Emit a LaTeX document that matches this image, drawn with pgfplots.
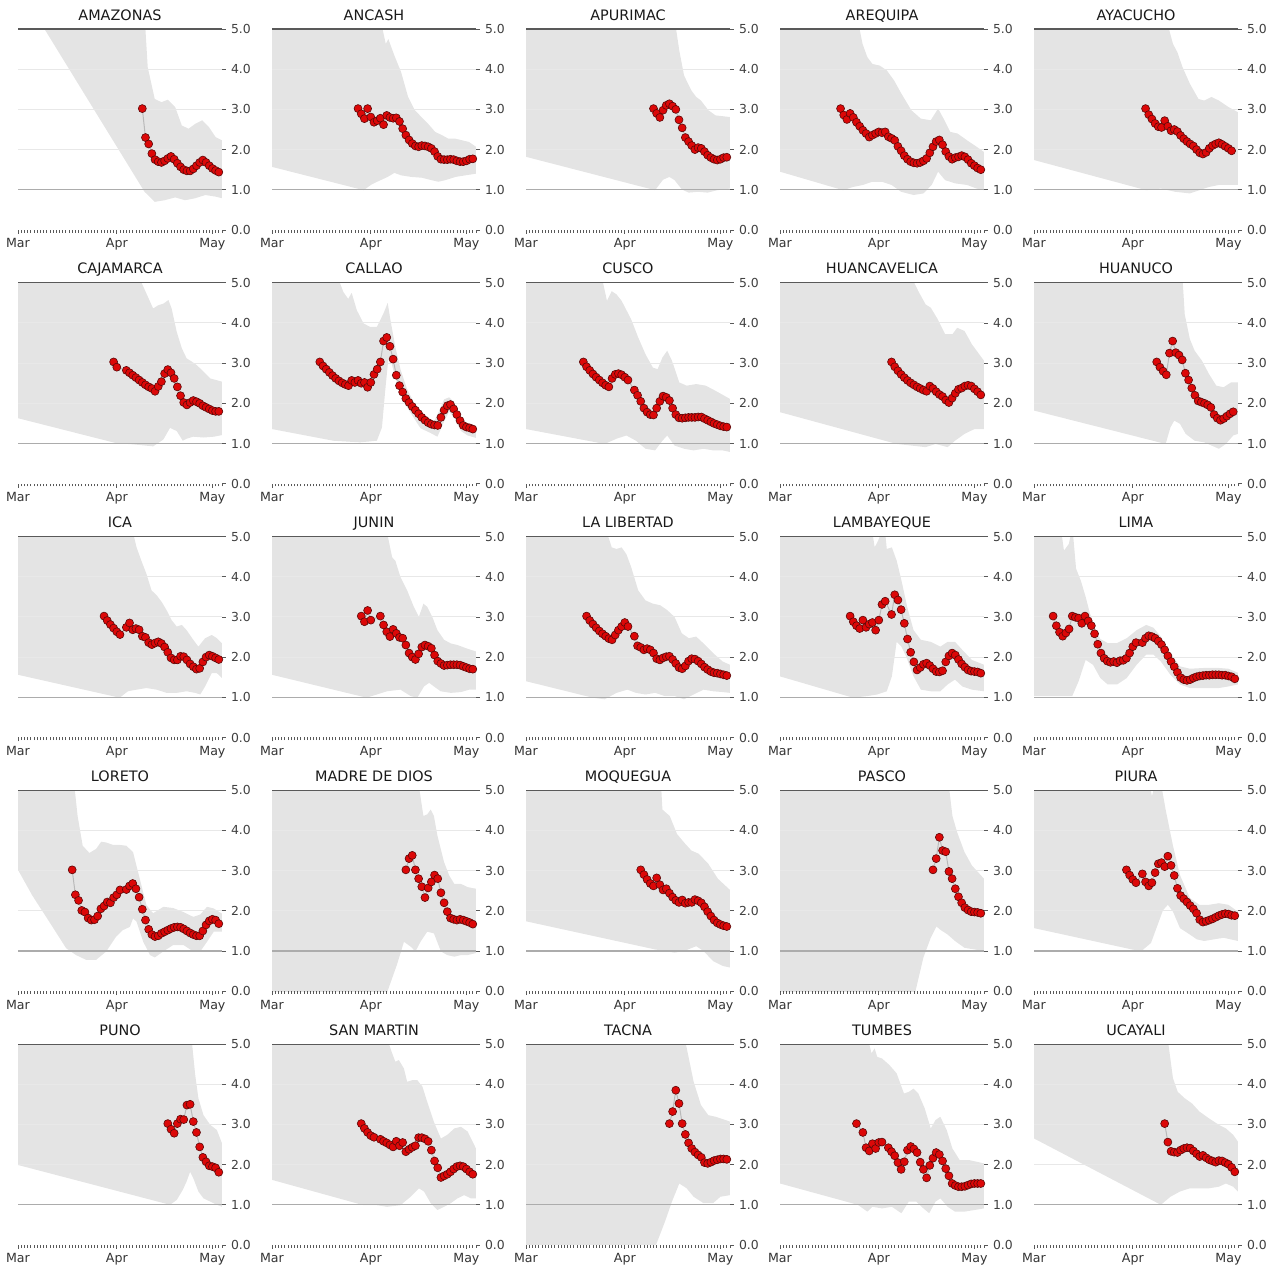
\documentclass[border=0pt]{standalone}
\usepackage{fontspec}
\setmainfont{DejaVu Sans}
\usepackage{pgfplots}
\pgfplotsset{compat=1.18}
\usepgfplotslibrary{fillbetween}

\definecolor{markred}{RGB}{220,8,8}
\definecolor{markedge}{RGB}{90,8,8}

\pgfplotsset{
  every axis title/.style={at={(0.5,1)}, anchor=base, yshift=4.4pt,
    font=\fontsize{7.2}{8}\selectfont, text=black!90},
  panel/.style={
    scale only axis, width=102pt, height=100.5pt,
    anchor=north west,
    xmin=0, xmax=64, ymin=0, ymax=5,
    axis x line*=bottom, axis y line*=right,
    axis line style={draw=none},
    ytick={0,1,2,3,4,5},
    xtick={0,31,61}, xticklabels={Mar,Apr,May},
    minor xtick={0,1,...,64},
    tick align=outside,
    major tick length=2pt, minor tick length=1.3pt,
    tick style={black!65, line width=0.35pt},
    /pgf/number format/assume math mode=true,
    yticklabel style={/pgf/number format/.cd, fixed, fixed zerofill, precision=1,
      /tikz/.cd, font=\fontsize{6.2}{7}\selectfont, text=black!75, xshift=-1pt},
    xticklabel style={font=\fontsize{6.3}{7}\selectfont, text=black!80, yshift=1.2pt},
  },
  gline/.style={gray!18, line width=0.5pt, forget plot},
  oneline/.style={gray!65, line width=0.55pt, forget plot},
  fiveline/.style={black!65, line width=0.6pt, forget plot},
  band/.style={fill=black, fill opacity=0.105, draw=none},
  series/.style={gray!55, line width=0.5pt, mark=*, mark size=2pt,
    mark options={solid, fill=markred, draw=markedge, line width=0.3pt}},
}

% #1 column, #2 row, #3 title, #4 upper bound, #5 lower bound, #6 estimate
\newcommand{\panel}[6]{%
\begin{axis}[panel, at={({#1*127pt+9pt},{-#2*126.875pt-14.5pt})}, title={#3}]
\addplot[gline] coordinates {(0,2) (64,2)};
\addplot[gline] coordinates {(0,3) (64,3)};
\addplot[gline] coordinates {(0,4) (64,4)};
\addplot[draw=none, name path=U, forget plot] coordinates {#4};
\addplot[draw=none, name path=L, forget plot] coordinates {#5};
\addplot[band] fill between[of=U and L];
\addplot[oneline] coordinates {(0,1) (64,1)};
\addplot[fiveline] coordinates {(0,5) (64,5)};
\addplot[series] coordinates {#6};
\end{axis}}

\begin{document}
\begin{tikzpicture}

% ---------- row 1
\panel{0}{0}{AMAZONAS}
{(0,5.1) (39.9,5.1) (40.7,4.05) (42.9,3.26) (45,3.18) (47,3.24) (49.3,3.06) (51.4,2.6) (53.5,2.52) (55.6,2.64) (57.8,2.73) (59.9,2.56) (62,2.31) (64,2.23)}
{(0,6.07) (8.3,5.0) (39.7,0.95) (42.9,0.70) (46,0.74) (49.3,0.81) (52.4,0.74) (55.6,0.79) (58.8,0.87) (62,0.83) (64,0.79)}
{(39,3.02) (40,2.30) (41,2.14) (42,1.90) (43,1.75) (44,1.70) (45,1.68) (46,1.72) (47,1.78) (48,1.83) (49,1.76) (50,1.66) (51,1.57) (52,1.50) (53,1.47) (54,1.47) (55,1.52) (56,1.60) (57,1.68) (58,1.74) (59,1.68) (60,1.60) (61,1.53) (62,1.48) (63,1.44)}

\panel{1}{0}{ANCASH}
{(0,5.1) (34.4,5.1) (35.7,4.63) (36.5,4.75) (38.4,4.34) (40.5,3.93) (42.7,3.31) (44.8,2.98) (46.9,2.81) (49,2.64) (51.2,2.44) (53.3,2.36) (55.4,2.27) (57.6,2.27) (59.7,2.23) (61.8,2.19) (64,2.07)}
{(0,1.57) (28.8,0.99) (31,1.12) (33,1.20) (36.3,1.32) (38.4,1.42) (40.5,1.36) (43.7,1.32) (47,1.30) (50,1.24) (52.2,1.20) (54.4,1.24) (57.6,1.32) (60.7,1.36) (64,1.40)}
{(27,3.02) (28,2.89) (29,2.77) (30,3.02) (31,2.81) (32,2.68) (33,2.72) (34,2.78) (35,2.62) (36,2.85) (37,2.80) (38,2.78) (39,2.79) (40,2.70) (41,2.52) (42,2.36) (43,2.24) (44,2.15) (45,2.09) (46,2.07) (47,2.10) (48,2.09) (49,2.07) (50,2.03) (51,1.95) (52,1.83) (53,1.76) (54,1.75) (55,1.75) (56,1.76) (57,1.75) (58,1.72) (59,1.70) (60,1.70) (61,1.72) (62,1.76) (63,1.77)}

\panel{2}{0}{APURIMAC}
{(0,5.1) (46.9,5.1) (48.1,4.46) (49.6,3.84) (51.9,3.47) (53.4,3.31) (54.9,3.22) (57.2,2.98) (59.5,2.85) (64,2.81)}
{(0,1.82) (40.5,0.99) (43,1.25) (45,1.32) (46.6,1.24) (48.9,1.01) (51,0.93) (54,0.95) (57,0.93) (60,0.99) (64,1.03)}
{(40,3.02) (41,2.90) (42,2.80) (43,2.98) (44,3.10) (45,3.14) (46,3.08) (47,3.00) (48,2.74) (49,2.54) (50,2.30) (51,2.20) (52,2.10) (53,2.00) (54,2.05) (55,2.03) (56,1.95) (57,1.86) (58,1.80) (59,1.76) (60,1.74) (61,1.76) (62,1.80) (63,1.81)}

\panel{3}{0}{AREQUIPA}
{(0,5.1) (24.7,5.1) (25.9,4.63) (27.4,4.30) (29,4.13) (31.3,4.09) (33.5,3.97) (35.8,3.72) (38.1,3.39) (41.2,2.98) (44.2,2.77) (47.3,2.73) (49.6,3.02) (51.6,2.73) (53.4,2.44) (55.7,2.40) (58.7,2.23) (61.7,2.07) (64,1.94)}
{(0,1.45) (19.8,0.99) (22.9,1.07) (26,1.12) (29,1.20) (32,1.20) (35,1.12) (38,0.95) (41.9,0.87) (45,0.91) (47.6,1.12) (49.6,1.45) (51.8,1.24) (54.9,1.16) (58.7,1.12) (61.7,1.03) (64,0.99)}
{(19,3.02) (20,2.86) (21,2.75) (22,2.90) (23,2.80) (24,2.68) (25,2.58) (26,2.48) (27,2.40) (28,2.31) (29,2.36) (30,2.40) (31,2.44) (32,2.42) (33,2.44) (34,2.32) (35,2.28) (36,2.23) (37,2.08) (38,1.97) (39,1.85) (40,1.76) (41,1.70) (42,1.67) (43,1.66) (44,1.68) (45,1.72) (46,1.78) (47,1.92) (48,2.07) (49,2.20) (50,2.24) (51,2.12) (52,1.95) (53,1.83) (54,1.76) (55,1.80) (56,1.82) (57,1.85) (58,1.82) (59,1.75) (60,1.66) (61,1.60) (62,1.54) (63,1.50)}

\panel{4}{0}{AYACUCHO}
{(0,5.1) (42,5.1) (43.6,4.63) (45,4.42) (46.6,4.05) (48.9,3.64) (51.6,3.26) (53.4,3.22) (55.7,3.31) (58,3.22) (61,3.06) (64,2.93)}
{(0,1.74) (35.2,0.99) (39.8,1.03) (44.3,0.95) (48.9,0.91) (51.9,0.99) (54.9,1.07) (58,1.12) (61,1.12) (64,1.12)}
{(35,3.02) (36,2.87) (37,2.76) (38,2.65) (39,2.57) (40,2.55) (41,2.72) (42,2.58) (43,2.47) (44,2.50) (45,2.45) (46,2.35) (47,2.27) (48,2.20) (49,2.14) (50,2.09) (51,2.00) (52,1.92) (53,1.89) (54,1.93) (55,2.03) (56,2.10) (57,2.14) (58,2.17) (59,2.13) (60,2.08) (61,2.03) (62,1.97)}

% ---------- row 2
\panel{0}{1}{CAJAMARCA}
{(0,5.1) (38.2,5.1) (40.3,4.73) (42.4,4.36) (44,4.44) (45.6,4.48) (47.2,4.57) (48.2,4.36) (49.8,3.78) (51.4,3.37) (52.9,3.12) (54.5,3.04) (56.1,2.95) (58.2,2.79) (60.3,2.62) (64,2.54)}
{(0,1.63) (30.8,1.01) (36.1,0.98) (42.4,0.93) (45.6,1.10) (47.7,1.39) (49.8,1.31) (51.7,1.07) (52.9,1.12) (55,1.17) (58.2,1.15) (61.4,1.17) (64,1.21)}
{(30,3.03) (31,2.90) (34,2.82) (35,2.76) (36,2.70) (37,2.64) (38,2.58) (39,2.52) (40,2.46) (41,2.41) (42,2.37) (43,2.30) (44,2.42) (45,2.54) (46,2.74) (47,2.84) (48,2.76) (49,2.62) (50,2.41) (51,2.19) (52,2.02) (53,1.96) (54,2.02) (55,2.07) (56,2.04) (57,2.00) (58,1.94) (59,1.90) (60,1.86) (61,1.82) (62,1.80) (63,1.80)}

\panel{1}{1}{CALLAO}
{(0,5.1) (20.8,5.1) (22.4,4.77) (23.9,4.60) (25,4.75) (26.6,4.32) (28.7,3.99) (30.8,3.90) (32.9,3.90) (35,4.24) (36.3,4.50) (37.1,4.10) (38.7,3.40) (40.3,2.85) (42.4,2.35) (45,1.95) (47.7,1.68) (50.8,1.55) (52.4,1.80) (54,2.10) (55.6,2.15) (57.2,2.02) (58.8,1.72) (60.9,1.50) (64,1.42)}
{(0,1.36) (19.2,1.07) (27.6,1.03) (32.9,1.07) (34.5,1.40) (35.5,2.30) (36.5,3.10) (37.5,3.00) (38.5,2.70) (40,2.30) (42,1.95) (44,1.70) (46.6,1.38) (49.8,1.26) (51.9,1.17) (54,1.55) (55.6,1.80) (57.2,1.63) (59.3,1.31) (61.4,1.20) (64,1.14)}
{(15,3.03) (16,2.93) (17,2.85) (18,2.77) (19,2.69) (20,2.62) (21,2.56) (22,2.51) (23,2.47) (24,2.44) (25,2.57) (26,2.52) (27,2.57) (28,2.50) (29,2.52) (30,2.40) (31,2.52) (32,2.72) (33,2.85) (34,3.03) (35,3.55) (36,3.64) (37,3.42) (38,3.10) (39,2.70) (40,2.44) (41,2.28) (42,2.12) (43,2.02) (44,1.92) (45,1.83) (46,1.74) (47,1.65) (48,1.58) (49,1.52) (50,1.48) (51,1.46) (52,1.45) (53,1.65) (54,1.83) (55,1.94) (56,1.97) (57,1.86) (58,1.72) (59,1.57) (60,1.45) (61,1.41) (62,1.39) (63,1.36)}

\panel{2}{1}{CUSCO}
{(0,5.1) (23.9,5.1) (25.4,4.55) (26.9,4.79) (28.4,4.71) (30,4.55) (33,4.09) (35.2,3.64) (37.5,3.22) (39.8,2.89) (41.3,2.85) (42.8,3.14) (44.3,3.31) (45.8,3.06) (48.1,2.52) (50.4,2.44) (53.4,2.48) (56.4,2.44) (59.5,2.31) (64,2.11)}
{(0,1.36) (24.7,0.99) (28.4,1.12) (31.5,1.20) (34.5,1.07) (37.5,0.87) (40.5,0.83) (42.8,1.07) (44.3,1.20) (46.6,0.95) (49.6,0.87) (52.6,0.83) (55.7,0.87) (58.7,0.83) (61.7,0.83) (64,0.79)}
{(18,3.03) (19,2.91) (20,2.82) (21,2.73) (22,2.65) (23,2.58) (24,2.51) (25,2.45) (26,2.41) (27,2.62) (28,2.72) (29,2.74) (30,2.71) (31,2.65) (32,2.58) (34,2.33) (35,2.20) (36,2.05) (37,1.88) (38,1.78) (39,1.72) (40,1.71) (41,1.88) (42,2.05) (43,2.18) (44,2.15) (45,2.07) (46,1.88) (47,1.72) (48,1.64) (49,1.63) (50,1.64) (51,1.65) (52,1.65) (53,1.65) (54,1.66) (55,1.66) (56,1.62) (57,1.58) (58,1.54) (59,1.50) (60,1.47) (61,1.44) (62,1.42) (63,1.41)}

\panel{3}{1}{HUANCAVELICA}
{(0,5.1) (41.5,5.1) (43.4,4.79) (45.7,4.46) (47.3,4.38) (49.5,4.09) (51.8,3.72) (54.1,3.72) (55.6,3.88) (57.9,3.80) (60.2,3.47) (64,3.06)}
{(0,1.78) (36.6,0.99) (41.2,0.95) (45.7,0.91) (48.8,0.99) (52.6,0.91) (54.9,1.07) (57.9,1.24) (61,1.36) (64,1.36)}
{(35,3.03) (36,2.91) (37,2.81) (38,2.72) (39,2.64) (40,2.57) (41,2.51) (42,2.46) (43,2.41) (44,2.37) (45,2.33) (46,2.30) (47,2.43) (48,2.37) (49,2.29) (50,2.22) (51,2.17) (52,2.08) (53,2.02) (54,2.13) (55,2.25) (56,2.35) (57,2.38) (58,2.43) (59,2.45) (60,2.43) (61,2.36) (62,2.29) (63,2.21)}

\panel{4}{1}{HUANUCO}
{(0,5.1) (46.6,5.1) (47.3,4.21) (48.9,3.60) (50.4,3.31) (52.7,3.06) (54.9,2.73) (57.2,2.44) (59.5,2.40) (61.8,2.52) (64,2.52)}
{(0,1.82) (41.3,0.99) (42.8,1.40) (44,1.57) (45.8,1.49) (47.6,1.24) (50.4,1.07) (53.4,1.03) (55.7,0.95) (58,0.87) (60.2,0.99) (62.5,1.20) (64,1.24)}
{(38.5,3.03) (39.5,2.90) (40.5,2.80) (41.5,2.71) (42.5,3.25) (43.5,3.55) (44.5,3.26) (45.5,3.20) (46.5,3.08) (47.5,2.75) (48.5,2.58) (49.5,2.38) (50.5,2.20) (51.5,2.06) (52.5,2.03) (53.5,2.00) (54.5,1.96) (55.5,1.90) (56.5,1.72) (57.5,1.63) (58.5,1.58) (59.5,1.62) (60.5,1.68) (61.5,1.74) (62.5,1.79)}

% ---------- row 3
\panel{0}{2}{ICA}
{(0,5.1) (36.1,5.1) (37.2,4.73) (38.7,4.40) (40.3,4.07) (41.9,3.66) (43.5,3.54) (45.1,3.37) (46.6,3.17) (48.2,2.92) (49.8,2.76) (51.4,2.80) (52.9,2.67) (55,2.43) (56.6,2.26) (58.7,2.47) (60.8,2.55) (62.4,2.47) (64,2.34)}
{(0,1.56) (31.9,0.99) (34.5,1.15) (37.2,1.19) (40.3,1.23) (43.5,1.19) (46.6,1.11) (49.8,1.11) (52.9,1.15) (55.6,1.11) (57.2,1.07) (58.7,1.27) (60.8,1.60) (62.4,1.60) (64,1.48)}
{(27,3.02) (28,2.91) (29,2.81) (30,2.72) (31,2.63) (32,2.56) (34,2.74) (35,2.85) (36,2.68) (37,2.71) (38,2.68) (39,2.52) (40,2.49) (41,2.36) (42,2.31) (43,2.35) (44,2.38) (45,2.34) (46,2.25) (47,2.12) (48,1.98) (49,1.93) (50,1.93) (51,2.02) (52,2.01) (53,1.93) (54,1.83) (55,1.76) (56,1.70) (57,1.72) (58,1.88) (59,2.00) (60,2.05) (61,2.02) (62,1.98) (63,1.94)}

\panel{1}{2}{JUNIN}
{(0,5.1) (36.1,5.1) (37.7,4.48) (38.7,4.40) (40.3,3.99) (42.4,3.66) (44.5,3.25) (46.1,3.00) (47.5,3.33) (48.7,3.25) (50.3,3.00) (51.9,2.67) (54,2.43) (56.1,2.34) (58.2,2.30) (60.9,2.22) (64,2.14)}
{(0,1.56) (29.7,0.99) (32.9,1.07) (36.1,1.15) (40.3,1.19) (43.5,1.03) (45.6,0.99) (47.7,1.27) (49.3,1.36) (50.8,1.27) (52.9,1.15) (56.1,1.11) (59.3,1.13) (61.9,1.19) (64,1.19)}
{(28,3.02) (29,2.88) (30,3.16) (31,2.92) (34,3.02) (35,2.80) (36,2.63) (37,2.51) (38,2.69) (39,2.59) (40,2.49) (41,2.47) (42,2.30) (43,2.10) (44,2.00) (45,1.94) (46,2.08) (47,2.25) (48,2.30) (49,2.27) (50,2.22) (51,2.05) (52,1.90) (53,1.84) (54,1.79) (55,1.80) (56,1.81) (57,1.81) (58,1.81) (59,1.80) (60,1.77) (61,1.74) (62,1.71) (63,1.70)}

\panel{2}{2}{LA LIBERTAD}
{(0,5.1) (25.4,5.1) (26.9,4.73) (28.4,4.69) (30,4.73) (31.5,4.56) (33,4.24) (35.2,3.66) (37.5,3.41) (39.8,3.33) (42.1,3.29) (44.3,3.17) (46.6,3.00) (48.9,2.59) (51.1,2.47) (53.4,2.51) (55.7,2.34) (58.7,2.10) (61.7,1.89) (64,1.81)}
{(0,1.40) (20.9,0.99) (24.7,0.95) (28.4,1.11) (31.8,1.19) (34.5,1.11) (37.5,1.07) (40.5,1.11) (43.6,1.03) (46.6,1.03) (49.6,0.95) (52.6,1.07) (55.7,1.19) (58.7,1.15) (61.7,1.13) (64,1.11)}
{(19,3.02) (20,2.91) (21,2.82) (22,2.73) (23,2.65) (24,2.58) (25,2.52) (26,2.46) (27,2.43) (28,2.55) (29,2.67) (30,2.76) (31,2.86) (32,2.76) (34,2.52) (35,2.28) (36,2.24) (37,2.18) (38,2.21) (39,2.18) (40,2.10) (41,1.96) (42,1.93) (43,1.98) (44,2.01) (45,2.02) (46,1.94) (47,1.84) (48,1.74) (49,1.71) (50,1.78) (51,1.90) (52,1.96) (53,1.95) (54,1.90) (55,1.83) (56,1.75) (57,1.69) (58,1.64) (59,1.61) (60,1.60) (61,1.58) (62,1.56) (63,1.54)}

\panel{3}{2}{LAMBAYEQUE}
{(0,5.1) (29,5.1) (29.7,4.73) (30.8,4.90) (31.8,5.1) (33,5.1) (33.5,4.69) (35.1,4.73) (36.6,4.40) (38.1,3.91) (39.9,3.25) (41.9,2.67) (44.2,2.43) (47.3,2.38) (50.3,2.26) (52.6,2.38) (54.9,2.38) (57.2,2.18) (60.2,1.93) (64,1.81)}
{(0,1.52) (22.9,0.99) (27.4,1.03) (30.5,1.07) (33.5,1.15) (35.1,1.52) (36.6,2.38) (38.1,2.26) (39.6,2.01) (41.9,1.52) (44.2,1.19) (47.3,1.15) (50.3,1.15) (52.6,1.32) (54.9,1.44) (57.2,1.27) (60.2,1.19) (64,1.15)}
{(22,3.02) (23,2.88) (24,2.78) (25,2.71) (26,2.92) (27,2.74) (28,2.82) (29,2.86) (30,2.67) (31,2.92) (32,3.31) (33,3.39) (35,3.06) (36,3.55) (37,3.42) (38,3.18) (39,2.84) (40,2.45) (41,2.12) (42,1.88) (43,1.68) (44,1.74) (45,1.82) (46,1.85) (47,1.79) (48,1.71) (49,1.64) (50,1.63) (51,1.66) (52,1.88) (53,2.03) (54,2.10) (55,2.05) (56,1.94) (57,1.83) (58,1.75) (59,1.68) (60,1.65) (61,1.64) (62,1.63) (63,1.60)}

\panel{4}{2}{LIMA}
{(0,5.1) (8.6,5.1) (9.4,4.65) (10.9,4.81) (11.7,5.1) (12.2,5.1) (13.2,4.2) (14.7,3.9) (16.2,3.5) (17.5,3.1) (19,2.75) (20.8,2.45) (23.1,2.35) (26.1,2.35) (29.1,2.47) (32.2,2.67) (35.2,2.80) (37.5,2.73) (39.8,2.51) (42.8,2.10) (45.8,1.77) (48.9,1.71) (53.4,1.73) (58,1.73) (61,1.71) (64,1.61)}
{(0,1.03) (12,1.03) (14,1.40) (16.2,1.93) (18.5,1.81) (20.8,1.48) (23.1,1.32) (26.1,1.32) (29.1,1.48) (32.2,1.81) (35.2,2.06) (37.5,2.06) (39.8,1.89) (42.8,1.56) (45.8,1.32) (48.9,1.23) (53.4,1.23) (58,1.23) (61,1.27) (64,1.32)}
{(6,3.02) (7,2.78) (8,2.62) (9,2.52) (10,2.60) (11,2.70) (12,3.02) (13,2.99) (14,2.97) (15,2.84) (16,3.02) (17,2.90) (18,2.78) (19,2.58) (20,2.32) (21,2.10) (22,1.97) (23,1.90) (24,1.87) (25,1.89) (26,1.86) (27,1.91) (28,1.92) (29,1.97) (30,2.10) (31,2.26) (32,2.36) (34,2.36) (35,2.47) (36,2.53) (37,2.51) (38,2.47) (39,2.40) (40,2.31) (41,2.18) (42,2.03) (43,1.89) (44,1.76) (45,1.62) (46,1.49) (47,1.44) (48,1.42) (49,1.44) (50,1.48) (51,1.51) (52,1.53) (53,1.54) (54,1.55) (55,1.55) (56,1.56) (57,1.56) (58,1.56) (59,1.55) (60,1.55) (61,1.53) (62,1.51) (63,1.46)}

% ---------- row 4
\panel{0}{3}{LORETO}
{(0,5.1) (17.7,5.1) (18.7,4.36) (20.3,3.62) (22.4,3.44) (24.5,3.54) (26.1,3.72) (27.7,3.70) (29.8,3.64) (31.9,3.64) (34,3.62) (36.1,3.46) (38.2,2.80) (40.3,2.14) (42.4,1.94) (45.6,2.10) (48.7,2.07) (51.9,1.97) (55,1.85) (57.2,1.91) (59.3,2.10) (61.4,2.06) (64,1.93)}
{(0,3.02) (4.5,2.38) (9.8,1.73) (15.1,1.07) (18.2,0.90) (21.4,0.78) (24.5,0.78) (27.7,0.99) (30.8,1.36) (32.9,1.52) (35.1,1.60) (36.1,1.81) (37.2,1.73) (39.3,1.23) (41.4,0.90) (42.9,0.84) (45.6,0.99) (48.7,1.15) (51.9,1.15) (55,0.99) (57.2,0.99) (59.3,1.23) (61.4,1.48) (64,1.48)}
{(17,3.02) (18,2.40) (19,2.26) (20,2.01) (21,1.97) (22,1.82) (23,1.77) (24,1.78) (25,1.87) (26,2.05) (27,2.12) (28,2.22) (29,2.20) (30,2.33) (31,2.40) (32,2.52) (34,2.53) (35,2.62) (36,2.68) (37,2.55) (38,2.34) (39,2.04) (40,1.77) (41,1.54) (42,1.41) (43,1.36) (44,1.38) (45,1.44) (46,1.48) (47,1.52) (48,1.56) (49,1.59) (50,1.60) (51,1.59) (52,1.55) (53,1.50) (54,1.45) (55,1.41) (56,1.38) (57,1.38) (58,1.50) (59,1.65) (60,1.75) (61,1.79) (62,1.77) (63,1.68)}

\panel{1}{3}{MADRE DE DIOS}
{(0,5.1) (46.1,5.1) (47.5,4.36) (48.7,4.40) (49.8,4.52) (50.8,4.36) (51.9,3.87) (54,3.21) (55.6,2.88) (57.2,2.67) (59.3,2.67) (61.4,2.59) (64,2.55)}
{(0,-0.1) (35.8,-0.1) (39.2,0.66) (41.4,1.23) (43.5,1.11) (45,0.99) (46.6,1.23) (48.7,1.48) (50.8,1.44) (53,0.99) (55,0.90) (57.2,0.86) (59.3,0.90) (61.4,0.90) (64,0.95)}
{(42,3.02) (43,3.30) (44,3.38) (45,3.02) (46,2.80) (47,2.60) (48,2.33) (49,2.57) (50,2.72) (51,2.89) (52,2.80) (53,2.45) (54,2.20) (55,1.98) (56,1.82) (57,1.79) (58,1.77) (59,1.79) (60,1.77) (61,1.74) (62,1.71) (63,1.67)}

\panel{2}{3}{MOQUEGUA}
{(0,5.1) (42.4,5.1) (42.8,4.52) (45.1,4.36) (47.4,3.91) (49.6,3.70) (51.9,3.50) (54.2,3.42) (57.2,3.17) (60.2,2.80) (64,2.52)}
{(0,1.74) (40.5,1.04) (43.6,1.00) (46.6,0.96) (49.6,1.00) (53.4,1.12) (55.7,1.00) (58.7,0.75) (61.7,0.63) (64,0.59)}
{(36,3.02) (37,2.90) (38,2.78) (39,2.68) (40,2.62) (41,2.82) (42,2.65) (43,2.52) (44,2.55) (45,2.44) (46,2.34) (47,2.26) (48,2.21) (49,2.27) (50,2.19) (51,2.21) (52,2.21) (53,2.28) (54,2.25) (55,2.20) (56,2.10) (57,1.98) (58,1.87) (59,1.77) (60,1.70) (61,1.66) (62,1.63) (63,1.61)}

\panel{3}{3}{PASCO}
{(0,5.1) (53,5.1) (54.1,4.36) (55.6,3.95) (57.9,3.46) (60.2,3.13) (64,2.80)}
{(0,-0.1) (42.2,-0.1) (45,0.84) (47.3,1.33) (49.1,1.61) (50.3,1.53) (52.6,1.41) (54.9,1.25) (57.9,1.08) (61,1.04) (64,1.00)}
{(48,3.02) (49,3.30) (50,3.83) (51,3.50) (52,3.47) (53,2.98) (54,2.80) (55,2.55) (56,2.35) (57,2.20) (58,2.08) (59,2.02) (60,1.98) (61,1.97) (62,1.96) (63,1.94)}

\panel{4}{3}{PIURA}
{(0,5.1) (36.4,5.1) (37,4.85) (37.8,5.1) (40,5.1) (41.3,4.52) (43.6,3.62) (45.8,2.89) (48.9,2.32) (51.9,2.15) (54.9,2.15) (58,2.19) (61,2.15) (64,1.98)}
{(0,1.57) (30.7,1.04) (33.7,1.00) (36.7,1.20) (40.5,2.02) (42,2.15) (43.6,1.98) (45.8,1.57) (48.9,1.41) (51.1,1.29) (53.4,1.25) (56.4,1.29) (59.5,1.33) (64,1.25)}
{(29,3.02) (30,2.89) (31,2.78) (32,2.70) (34,2.92) (35,2.72) (36,2.62) (37,2.70) (38,2.95) (39,3.17) (40,3.20) (41,3.10) (42,3.36) (43,3.13) (44,2.88) (45,2.56) (46,2.38) (47,2.30) (48,2.22) (49,2.13) (50,2.05) (51,1.94) (52,1.78) (53,1.72) (54,1.74) (55,1.77) (56,1.80) (57,1.84) (58,1.88) (59,1.91) (60,1.93) (61,1.92) (62,1.89) (63,1.88)}

% ---------- row 5
\panel{0}{4}{PUNO}
{(0,5.1) (54.5,5.1) (55.6,4.23) (56.6,3.65) (58.2,3.23) (60.3,2.99) (62.4,2.86) (64,2.53)}
{(0,1.99) (47.7,1.00) (49.8,1.12) (51.7,1.37) (52.9,1.58) (54,1.82) (55,1.66) (56.6,1.33) (58.2,1.16) (60.3,1.08) (62.4,1.00) (64,0.95)}
{(47,3.02) (48,2.88) (49,2.78) (50,3.02) (51,3.13) (52,3.12) (53,3.48) (54,3.50) (55,3.07) (56,2.80) (57,2.44) (58,2.18) (59,2.07) (60,1.97) (61,1.95) (62,1.92) (63,1.81)}

\panel{1}{4}{SAN MARTIN}
{(0,5.1) (36.3,5.1) (37.7,4.77) (38.7,4.56) (39.8,4.60) (41.4,4.39) (42.4,4.06) (44,4.10) (45.6,4.10) (47.2,3.94) (48.7,3.56) (50.8,3.06) (53,2.65) (55,2.74) (57.2,2.90) (59.3,2.94) (61.4,2.82) (64,2.40)}
{(0,1.62) (28.7,0.99) (32.9,0.99) (36.1,0.95) (40.3,0.99) (43.5,1.20) (46.1,1.41) (47.7,1.33) (49.8,1.04) (51.9,0.87) (54,0.95) (56.1,1.04) (58.2,1.16) (60.3,1.24) (62.4,1.16) (64,1.16)}
{(28,3.02) (29,2.90) (30,2.80) (31,2.72) (32,2.68) (34,2.63) (35,2.58) (36,2.54) (37,2.49) (38,2.44) (39,2.58) (40,2.47) (41,2.55) (42,2.32) (43,2.38) (44,2.43) (45,2.47) (46,2.67) (47,2.67) (48,2.64) (49,2.58) (50,2.36) (51,2.09) (52,1.92) (53,1.68) (54,1.72) (55,1.76) (56,1.82) (57,1.89) (58,1.95) (59,1.97) (60,1.95) (61,1.89) (62,1.82) (63,1.76)}

\panel{2}{4}{TACNA}
{(0,5.1) (49.9,5.1) (51.1,4.64) (52.6,4.06) (54.9,3.48) (57.2,3.23) (59.5,3.19) (64,3.07)}
{(0,-0.1) (40.3,-0.1) (43.6,0.58) (45.8,1.08) (48.1,1.53) (50.4,1.41) (52.6,1.20) (55.7,1.04) (58.7,1.04) (61,1.20) (64,1.24)}
{(45,3.02) (46,3.32) (47,3.85) (48,3.52) (49,3.02) (50,2.75) (51,2.54) (52,2.40) (53,2.31) (54,2.24) (55,2.18) (56,2.05) (57,2.03) (58,2.06) (59,2.10) (60,2.12) (61,2.14) (62,2.14) (63,2.13)}

\panel{3}{4}{TUMBES}
{(0,5.1) (27.7,5.1) (28.7,4.77) (29.7,4.89) (30.5,4.68) (32,4.64) (34.3,4.48) (36.6,4.27) (38.9,3.77) (40.4,3.81) (41.9,3.89) (43.4,3.77) (45.4,3.40) (47.3,2.90) (48.8,3.11) (50.3,3.19) (52.3,2.86) (54.1,2.40) (56.4,2.11) (59.5,2.11) (64,2.03)}
{(0,1.53) (24.4,1.00) (27.4,0.83) (29,0.95) (32,0.91) (35.1,0.95) (38.1,0.79) (40.4,1.08) (42.7,1.08) (45,0.91) (46.8,0.79) (48.8,1.08) (50.3,1.16) (52.6,0.95) (54.9,0.83) (57.9,0.83) (61,0.87) (64,0.91)}
{(24,3.02) (26,2.80) (27,2.42) (28,2.34) (29,2.52) (30,2.40) (31,2.55) (32,2.56) (34,2.42) (35,2.32) (36,2.22) (37,2.05) (38,1.88) (39,2.07) (40,2.36) (41,2.45) (42,2.39) (43,2.30) (44,2.06) (45,1.88) (46,1.67) (47,1.98) (48,2.16) (49,2.30) (50,2.25) (51,2.09) (52,1.90) (53,1.72) (54,1.53) (55,1.48) (56,1.45) (57,1.45) (58,1.46) (59,1.49) (60,1.52) (61,1.53) (62,1.53) (63,1.53)}

\panel{4}{4}{UCAYALI}
{(0,5.1) (42,5.1) (43.6,4.15) (45.1,3.81) (47.3,3.65) (49.6,3.52) (51.9,3.32) (54.9,3.15) (58,2.99) (60.2,2.90) (62.5,2.74) (64,2.57)}
{(0,2.65) (39.8,1.00) (42.8,1.20) (45.8,1.33) (48.9,1.41) (51.9,1.41) (54.9,1.41) (58,1.45) (60.2,1.53) (62.5,1.45) (64,1.33)}
{(41,3.02) (42,2.56) (43,2.33) (44,2.31) (45,2.30) (46,2.36) (47,2.40) (48,2.42) (49,2.41) (50,2.34) (51,2.27) (52,2.20) (53,2.23) (54,2.17) (55,2.12) (56,2.09) (57,2.06) (58,2.10) (59,2.09) (60,2.05) (61,2.01) (62,1.93) (63,1.82)}

\pgfresetboundingbox
\path[use as bounding box] (0,0) rectangle (635.5pt,-634pt);
\end{tikzpicture}
\end{document}
